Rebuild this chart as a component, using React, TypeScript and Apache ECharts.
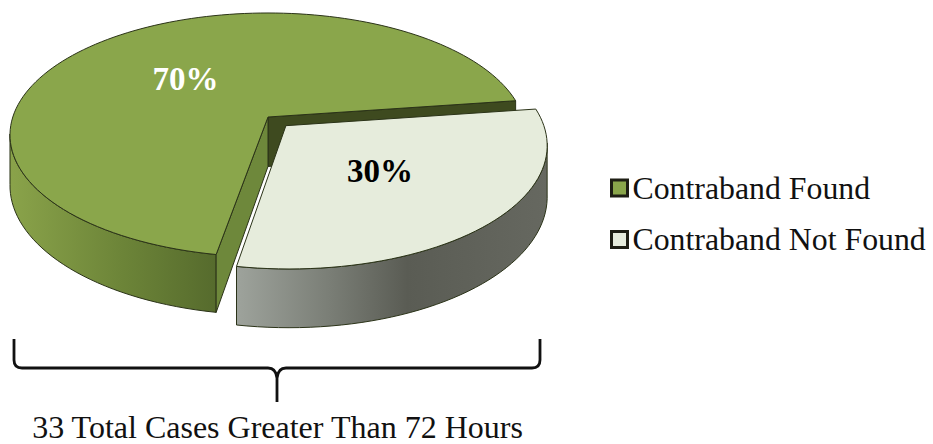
import React, { useEffect, useRef } from "react";
import * as echarts from "echarts";

const categories = ["Contraband Found", "Contraband Not Found"];
const values = [70, 30];
const caption = "33 Total Cases Greater Than 72 Hours";

const SERIF = "Liberation Serif";
const topColors = ["#8AA64B", "#E6ECDC"];
const labelColors = ["#FFFFFF", "#000000"];
const labelAnchors = [[185.5, 79], [380, 170.5]];
const explode = [0, 0.1];

// perspective view of the pie's plane
const CX = 268, CY = 117, DX = 255.2, AY = 102.1, PERSP = -0.1475, DEPTH = 58;
const START_DEG = 100;

const project = (u: number, v: number, lowered = false) => {
  const w = 1 + PERSP * v;
  const drop = lowered ? (DEPTH * (1 + PERSP)) / w : 0;
  return [CX + (DX * u) / w, (AY * v + CY) / w + drop];
};

const total = values.reduce((a, b) => a + b, 0);
const sliceStart = (i: number) =>
  START_DEG + (values.slice(0, i).reduce((a, b) => a + b, 0) / total) * 360;

const rimAngles = (a0: number, a1: number) => {
  const out: number[] = [];
  const n = Math.max(8, Math.ceil((a1 - a0) / 2));
  for (let k = 0; k <= n; k++) out.push(((a0 + ((a1 - a0) * k) / n) * Math.PI) / 180);
  return out;
};

const LINE = "#2B3318";

function makeRender(index: number) {
  return (_params: any, api: any) => {
    const value = api.value(0);
    const a0 = sliceStart(index);
    const a1 = a0 + (value / total) * 360;
    const mid = ((a0 + a1) / 2) * (Math.PI / 180);
    const ou = Math.cos(mid) * explode[index];
    const ov = Math.sin(mid) * explode[index];
    const pt = (t: number, low = false) => project(ou + Math.cos(t), ov + Math.sin(t), low);
    const apex = project(ou, ov);
    const apexLow = project(ou, ov, true);
    const all = rimAngles(a0, a1);
    const front = all.filter((t) => Math.sin(t) > -PERSP - 0.02);
    const wallPts = [...front.map((t) => pt(t)), ...front.slice().reverse().map((t) => pt(t, true))];
    const topPts = [apex, ...all.map((t) => pt(t))];
    const t0 = (a0 * Math.PI) / 180;
    const t1 = (a1 * Math.PI) / 180;
    const children: any[] = [];
    const poly = (points: number[][], fill: any, lineWidth = 1) =>
      children.push({
        type: "polygon",
        shape: { points },
        style: { fill, stroke: LINE, lineWidth, lineJoin: "round" },
      });
    if (index === 0) {
      // inner wall along the far radius, then outer rim, then the near cut face
      poly([apex, pt(t1), pt(t1, true), apexLow], "#3E4A1F");
      poly(
        wallPts,
        new echarts.graphic.LinearGradient(1, 0, 0, 0, [
          { offset: 0, color: "#566B2D" },
          { offset: 0.45, color: "#6C8438" },
          { offset: 1, color: "#8AA34A" },
        ])
      );
      poly([apex, pt(t0), pt(t0, true), apexLow], "#6E883B");
    } else {
      poly(
        wallPts,
        new echarts.graphic.LinearGradient(0, 0, 1, 0, [
          { offset: 0, color: "#9EA39C" },
          { offset: 0.3, color: "#7A7E76" },
          { offset: 0.55, color: "#5A5C54" },
          { offset: 1, color: "#666860" },
        ])
      );
    }
    poly(topPts, topColors[index]);
    children.push({
      type: "text",
      x: labelAnchors[index][0],
      y: labelAnchors[index][1],
      style: {
        text: `${value}%`,
        fill: labelColors[index],
        font: `bold 33px "${SERIF}"`,
        textAlign: "center",
        textVerticalAlign: "middle",
      },
    });
    return { type: "group", children };
  };
}

echarts.graphic.registerShape(
  "brace",
  echarts.graphic.extendPath(
    "M14 339 L14 360 Q14 368 22 368 L268 368 Q276 368 277 378 L277 402 M277 378 Q278 368 286 368 L532 368 Q540 368 540 360 L540 339",
    {}
  ) as any
);

export default function App() {
  const ref = useRef<HTMLDivElement>(null);
  useEffect(() => {
    const chart = echarts.init(ref.current!, undefined, { renderer: "svg" });
    chart.setOption({
      animation: false,
      backgroundColor: "#FFFFFF",
      legend: {
        data: categories,
        orient: "vertical",
        left: 605,
        top: 167,
        icon: "rect",
        itemWidth: 16,
        itemHeight: 16,
        itemGap: 19.5,
        selectedMode: false,
        itemStyle: { borderColor: "#1E1E14", borderWidth: 3 },
        textStyle: { fontFamily: SERIF, fontSize: 31.8, color: "#111111" },
      },
      series: categories.map((name, i) => ({
        type: "custom",
        name,
        coordinateSystem: "none",
        silent: true,
        clip: false,
        itemStyle: { color: topColors[i] },
        renderItem: makeRender(i),
        data: [[values[i]]],
      })),
      graphic: [
        { type: "brace", x: 0, y: 0, style: { fill: "none", stroke: "#111111", lineWidth: 2.8 } },
        {
          type: "text",
          x: 277.5,
          y: 426.5,
          style: {
            text: caption,
            fill: "#111111",
            font: `32px "${SERIF}"`,
            textAlign: "center",
            textVerticalAlign: "middle",
          },
        },
      ],
    });
    return () => chart.dispose();
  }, []);
  return <div ref={ref} style={{ position: "fixed", left: 0, top: 0, width: 933, height: 444 }} />;
}
